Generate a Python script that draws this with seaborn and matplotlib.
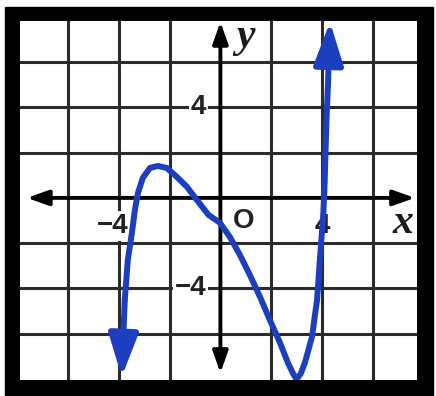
import matplotlib
matplotlib.use("Agg")
import matplotlib.pyplot as plt
from matplotlib.patches import Rectangle
import seaborn as sns

# curve points (x, y in graph units)
curve_x = [-3.77, -3.65, -3.49, -3.37, -3.25, -3.06, -2.78, -2.47, -2.11, -1.72,
           -1.32, -0.93, -0.47, -0.02, 0.37, 0.77, 1.16, 1.56, 1.95, 2.35,
           2.66, 2.85, 3.0, 3.17, 3.33, 3.61, 3.81, 3.93, 4.05, 4.1, 4.18, 4.24]
curve_y = [-4.50, -2.74, -1.55, -0.53, 0.22, 0.88, 1.32, 1.41, 1.32, 0.93,
           0.49, -0.09, -0.75, -1.10, -1.72, -2.52, -3.40, -4.37, -5.39, -6.40,
           -7.28, -7.72, -8.02, -7.75, -7.28, -6.14, -4.50, -2.60, -0.84, 0.35, 3.4, 5.0]
# arrow tips at the two ends of the curve
tip_low = (-3.89, -7.9)
tip_high = (4.32, 7.77)

grid_vals = [-6, -4, -2, 2, 4, 6]
xlim = (-7.9, 7.75)
ylim = (-8.04, 7.81)

blue = "#1c3fbf"

sns.set_style("white")
fig = plt.figure(figsize=(4.36, 3.96), dpi=100)
fig.patches.append(Rectangle((5 / 436, 0), 428 / 436, 389 / 396,
                             transform=fig.transFigure, color="black", zorder=-1))
ax = fig.add_axes([20 / 436, 1 - 380 / 396, 397 / 436, 359 / 396])
ax.set_zorder(1)
ax.set_facecolor("white")
ax.set_xlim(*xlim)
ax.set_ylim(*ylim)
for s in ax.spines.values():
    s.set_visible(False)
ax.set_xticks([])
ax.set_yticks([])

# grid
for v in grid_vals:
    ax.axvline(v, color="#2b2b2b", lw=2.2, zorder=1)
    ax.axhline(v, color="#2b2b2b", lw=2.2, zorder=1)

# axes with arrows
axis_arrow = dict(arrowstyle="<|-|>,head_length=0.65,head_width=0.23",
                  mutation_scale=20, color="black", lw=2.8,
                  shrinkA=0, shrinkB=0)
ax.annotate("", xy=(7.67, 0), xytext=(-7.63, 0), arrowprops=axis_arrow, zorder=3)
ax.annotate("", xy=(0, 7.77), xytext=(0, -7.73), arrowprops=axis_arrow, zorder=3)

# labels
box = dict(facecolor="white", edgecolor="none", pad=1.5)
num_font = dict(family="Liberation Sans", fontsize=20, fontweight="bold",
                color="#222222", zorder=2.5)
ax.text(-3.62, -1.25, "\u22124", ha="right", va="center", bbox=box, **num_font)
ax.text(4.0, -1.25, "4", ha="center", va="center", bbox=box, **num_font)
ax.text(-0.55, 4, "4", ha="right", va="center", bbox=box, **num_font)
ax.text(-0.55, -4, "\u22124", ha="right", va="center", bbox=box, **num_font)
ax.text(0.92, -1.02, "O", ha="center", va="center", bbox=box, **num_font)
ax.text(7.2, -1.1, "x", ha="center", va="center", family="Liberation Serif",
        fontsize=30, fontweight="bold", fontstyle="italic", color="#1a1a1a", zorder=2.5)
ax.text(0.97, 7.1, "y", ha="center", va="center", family="Liberation Serif",
        fontsize=30, fontweight="bold", fontstyle="italic", color="#1a1a1a", zorder=2.5)

# the curve
sns.lineplot(x=curve_x, y=curve_y, sort=False, estimator=None, color=blue,
             lw=4.3, ax=ax, zorder=4, solid_joinstyle="round",
             solid_capstyle="round")
curve_arrow = dict(arrowstyle="-|>,head_length=1.3,head_width=0.45",
                   mutation_scale=20, color=blue, lw=4.3, shrinkA=0, shrinkB=0)
ax.annotate("", xy=tip_low, xytext=(curve_x[0], curve_y[0]),
            arrowprops=curve_arrow, zorder=4)
ax.annotate("", xy=tip_high, xytext=(curve_x[-1], curve_y[-1]),
            arrowprops=curve_arrow, zorder=4)

fig.savefig("out.png", dpi=100)
